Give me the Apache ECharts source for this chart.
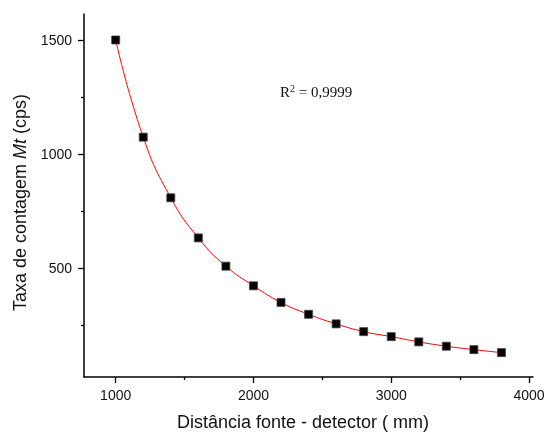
<!DOCTYPE html>
<html>
<head>
<meta charset="utf-8">
<script src="https://cdn.jsdelivr.net/npm/echarts@6/dist/echarts.min.js"></script>
<style>
html,body{margin:0;padding:0;background:#fff;}
#c{width:548px;height:432px;}
</style>
</head>
<body>
<div id="c"></div>
<script>
const distances = [1000,1200,1400,1600,1800,2000,2200,2400,2600,2800,3000,3200,3400,3600,3800];
const countRates = [1503,1077,811,635,511,425,352,300,258,224,202,179,160,145,132];
const xTickLabels = [1000,2000,3000,4000];
const xMinorTicks = [1500,2500,3500];
const yTickLabels = [500,1000,1500];
const yMinorTicks = [250,750,1250];
const rSquaredText = '0,9999';

const font = '"Liberation Sans", Arial, sans-serif';
const chart = echarts.init(document.getElementById('c'), null, {renderer:'canvas'});
const plain = v => String(v);
const X_MIN = 770, X_MAX = 4029, Y_MIN = 25, Y_MAX = 1617;
const axisCommon = {
  type:'value',
  splitLine:{show:false},
  axisLine:{show:true, lineStyle:{color:'#000', width:1.5}},
};
chart.setOption({
  animation:false,
  backgroundColor:'#fff',
  grid:{left:84, top:14, right:15, bottom:55, containLabel:false, outerBoundsMode:'none'},
  xAxis:[
    Object.assign({}, axisCommon, {
      min:X_MIN, max:X_MAX,
      name:'Distância fonte - detector ( mm)',
      nameLocation:'middle', nameGap:37,
      nameTextStyle:{fontFamily:font, fontSize:18, color:'#111', padding:[0,11,0,0]},
      axisTick:{show:true, inside:false, length:6, customValues:xTickLabels, lineStyle:{color:'#000', width:1.3}},
      axisLabel:{customValues:xTickLabels, formatter:plain, fontFamily:font, fontSize:14, color:'#111', margin:12}
    }),
    {
      type:'value', min:X_MIN, max:X_MAX, position:'bottom',
      axisLine:{show:false}, splitLine:{show:false},
      axisLabel:{show:false},
      axisTick:{show:true, length:3, customValues:xMinorTicks, lineStyle:{color:'#000', width:1.3}}
    }
  ],
  yAxis:[
    Object.assign({}, axisCommon, {
      min:Y_MIN, max:Y_MAX,
      name:'{a|Taxa de contagem }{b|Mt}{a| (cps)}',
      nameLocation:'middle', nameGap:51, nameRotate:90,
      nameTextStyle:{fontFamily:font, fontSize:18, color:'#111', padding:[0,14,0,0],
        rich:{a:{fontFamily:font, fontSize:18, color:'#111'}, b:{fontFamily:font, fontSize:18, fontStyle:'italic', color:'#111'}}},
      axisTick:{show:true, inside:false, length:6, customValues:yTickLabels, lineStyle:{color:'#000', width:1.3}},
      axisLabel:{customValues:yTickLabels, formatter:plain, fontFamily:font, fontSize:14, color:'#111', margin:12}
    }),
    {
      type:'value', min:Y_MIN, max:Y_MAX, position:'left',
      axisLine:{show:false}, splitLine:{show:false},
      axisLabel:{show:false},
      axisTick:{show:true, length:3, customValues:yMinorTicks, lineStyle:{color:'#000', width:1.3}}
    }
  ],
  series:[{
    type:'line',
    data:distances.map((d,i)=>[d,countRates[i]]),
    smooth:0.5,
    symbol:'rect',
    symbolSize:8,
    lineStyle:{color:'#ff0000', width:1},
    itemStyle:{color:'#000', borderColor:'#444', borderWidth:0.8},
    z:3
  }],
  graphic:[{
    type:'text', left:280, top:84,
    style:{
      text:'{r|R}{s|2}{r| = ' + rSquaredText + '}',
      rich:{
        r:{fontFamily:'"Liberation Serif", "Times New Roman", serif', fontSize:15, fill:'#111'},
        s:{fontFamily:'"Liberation Serif", "Times New Roman", serif', fontSize:10, fill:'#111', verticalAlign:'top', padding:[0,0,8,0]}
      }
    }
  }]
});
</script>
</body>
</html>
